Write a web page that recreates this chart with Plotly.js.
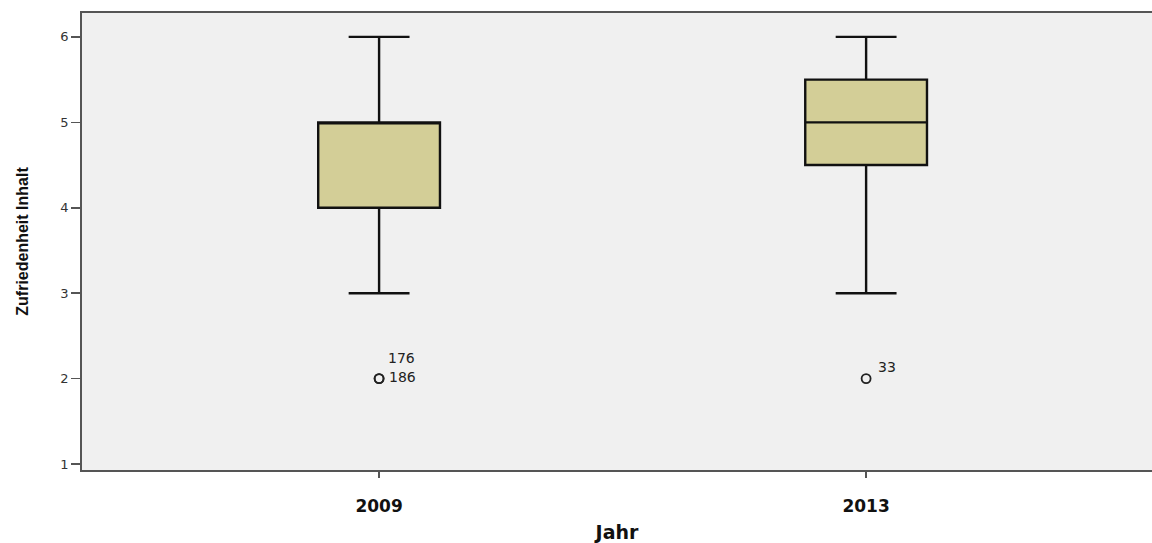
<!DOCTYPE html>
<html>
<head>
<meta charset="utf-8">
<script src="https://cdn.plot.ly/plotly-3.0.1.min.js"></script>
<style>html,body{margin:0;padding:0;background:#fff;}#chart{width:1152px;height:543px;}</style>
</head>
<body>
<div id="chart"></div>
<script>
// Categories and box statistics
const years = ["2009", "2013"];
const q1 = [4, 4.5];
const median = [5, 5];
const q3 = [5, 5.5];
const lowerFence = [3, 3];
const upperFence = [6, 6];

// Outliers
const outlierYear = ["2009", "2009", "2013"];
const outlierValue = [2, 2, 2];
const outlierCase = ["176", "186", "33"];
const outlierLabelShiftY = [21, 2, 12];
const outlierLabelShiftX = [7, 8, 10];

const boxTrace = {
  type: "box",
  x: years,
  q1: q1,
  median: median,
  q3: q3,
  lowerfence: lowerFence,
  upperfence: upperFence,
  boxpoints: false,
  width: 0.25,
  whiskerwidth: 0.5,
  fillcolor: "#D3CE97",
  line: { color: "#111111", width: 2.4 },
  hoverinfo: "none",
  showlegend: false
};

const outTrace = {
  type: "scatter",
  mode: "markers",
  x: outlierYear,
  y: outlierValue,
  marker: { symbol: "circle-open", size: 9, color: "#222222", line: { width: 1.8, color: "#222222" } },
  hoverinfo: "none",
  showlegend: false
};

// annotation x on a category axis uses the category's serial index
const annotations = outlierCase.map((c, i) => ({
  x: years.indexOf(outlierYear[i]),
  y: outlierValue[i],
  xref: "x",
  yref: "y",
  text: c,
  showarrow: false,
  xanchor: "left",
  yanchor: "middle",
  xshift: outlierLabelShiftX[i],
  yshift: outlierLabelShiftY[i],
  font: { family: "DejaVu Sans, sans-serif", size: 14, color: "#222222" }
}));

const layout = {
  width: 1152,
  height: 543,
  margin: { l: 82, r: 0, t: 13, b: 73, pad: 0 },
  paper_bgcolor: "#ffffff",
  plot_bgcolor: "#F0F0F0",
  showlegend: false,
  annotations: annotations,
  xaxis: {
    type: "category",
    range: [-0.61, 1.587],
    showgrid: false,
    zeroline: false,
    showline: true,
    mirror: true,
    linecolor: "#555555",
    linewidth: 1.8,
    ticks: "outside",
    ticklen: 6,
    tickwidth: 2,
    tickcolor: "#555555",
    ticklabelstandoff: 14,
    tickfont: { family: "DejaVu Sans, sans-serif", size: 17, color: "#111111", weight: "bold" },
    title: { text: "<b>Jahr</b>", standoff: 12, font: { family: "DejaVu Sans, sans-serif", size: 19, color: "#111111" } }
  },
  yaxis: {
    range: [0.93, 6.28],
    tickvals: [1, 2, 3, 4, 5, 6],
    showgrid: false,
    zeroline: false,
    showline: true,
    mirror: false,
    linecolor: "#555555",
    linewidth: 1.8,
    ticks: "outside",
    ticklen: 9,
    tickwidth: 1.5,
    tickcolor: "#555555",
    tickfont: { family: "DejaVu Sans, sans-serif", size: 13, color: "#333333" },
    title: { text: "<b>Zufriedenheit Inhalt</b>", standoff: 28, font: { family: "Liberation Sans Narrow, Arial Narrow, Liberation Sans, sans-serif", size: 16, color: "#111111" } }
  }
};

Plotly.newPlot("chart", [boxTrace, outTrace], layout, { staticPlot: true, displayModeBar: false });
</script>
</body>
</html>
